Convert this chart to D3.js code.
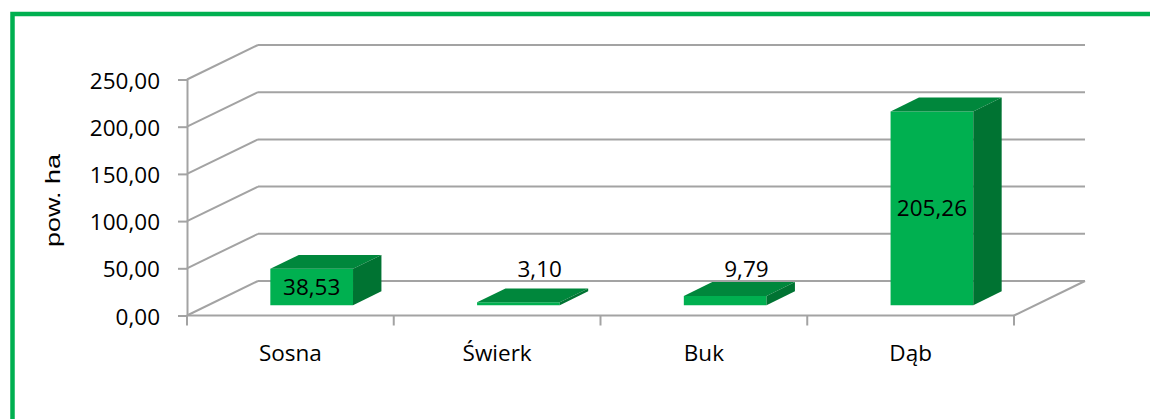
<!DOCTYPE html>
<html><head><meta charset="utf-8">
<script src="https://cdn.jsdelivr.net/npm/d3@7"></script>
<style>
html,body{margin:0;padding:0;background:#fff;}
svg{display:block;}
</style></head>
<body>
<svg id="chart" width="1150" height="419"></svg>
<script>
const categories = ["Sosna", "Świerk", "Buk", "Dąb"];
const values = [38.53, 3.10, 9.79, 205.26];
const yTicks = [0, 50, 100, 150, 200, 250];
const yTitle = "pow. ha";

const svg = d3.select("#chart");
const loc = d3.formatLocale({decimal: ",", thousands: " ", grouping: [3], currency: ["", ""]});
const fmt = loc.format(".2f");

// geometry
const X0 = 187, X1 = 1014;
const y = d3.scaleLinear().domain([0, 250]).range([315.5, 79.5]);
const x = d3.scaleBand().domain(categories).range([X0, X1]).paddingInner(0.6).paddingOuter(0.3);
const DX = 71, DY = -34.5;          // full depth offset
const fFront = 0.3, fBack = 0.7;     // bar depth placement
const grid = "#a3a3a3";
const font = "'Open Sans', sans-serif";

// green frame
svg.append("rect").attr("x", 12.5).attr("y", 14).attr("width", 1300).attr("height", 600)
  .attr("fill", "none").attr("stroke", "#00b050").attr("stroke-width", 4.5);

const g = svg.append("g");

// back wall gridlines + left wall diagonals
yTicks.forEach(t => {
  g.append("line").attr("x1", X0 + DX).attr("x2", X1 + DX)
    .attr("y1", y(t) + DY).attr("y2", y(t) + DY)
    .attr("stroke", grid).attr("stroke-width", 2);
  g.append("line").attr("x1", X0).attr("x2", X0 + DX)
    .attr("y1", y(t)).attr("y2", y(t) + DY)
    .attr("stroke", grid).attr("stroke-width", 2);
});
// floor front edge and right edge
g.append("line").attr("x1", X0).attr("x2", X1).attr("y1", y(0)).attr("y2", y(0))
  .attr("stroke", grid).attr("stroke-width", 2);
g.append("line").attr("x1", X1).attr("x2", X1 + DX).attr("y1", y(0)).attr("y2", y(0) + DY)
  .attr("stroke", grid).attr("stroke-width", 2);

// category ticks
const step = x.step();
d3.range(categories.length + 1).forEach(i => {
  g.append("line").attr("x1", X0 + i * step).attr("x2", X0 + i * step)
    .attr("y1", y(0)).attr("y2", y(0) + 10)
    .attr("stroke", grid).attr("stroke-width", 2);
});

// y axis
const yAxis = d3.axisLeft(y).tickValues(yTicks).tickFormat(fmt).tickSize(9).tickSizeOuter(0).tickPadding(18);
const ya = g.append("g").attr("transform", `translate(${X0},0)`).call(yAxis);
ya.select(".domain").attr("stroke", grid).attr("stroke-width", 2);
ya.selectAll(".tick line").attr("stroke", grid).attr("stroke-width", 2);
ya.selectAll(".tick text").attr("font-family", font).attr("font-size", 22.5).attr("fill", "#000")
  .attr("dy", null).attr("y", 8.5);

// y title
svg.append("text").attr("transform", "translate(59.5,200.5) rotate(-90)")
  .attr("text-anchor", "middle").attr("font-family", "'Liberation Sans', Arial, sans-serif")
  .attr("font-size", 21).attr("textLength", 93).attr("lengthAdjust", "spacingAndGlyphs")
  .text(yTitle);

// category labels
categories.forEach(c => {
  svg.append("text").attr("x", x(c) + x.bandwidth() / 2).attr("y", 361)
    .attr("text-anchor", "middle").attr("font-family", font).attr("font-size", 22.5)
    .attr("fill", "#000").text(c);
});

// bars
const fdx = DX * fFront, fdy = DY * fFront;
const bdx = DX * (fBack - fFront), bdy = DY * (fBack - fFront);
const data = categories.map((c, i) => ({c, v: values[i]}));
const bars = g.append("g").selectAll("g").data(data).join("g");
bars.each(function(d) {
  const s = d3.select(this);
  const xl = x(d.c) + fdx, xr = xl + x.bandwidth();
  const yb = y(0) + fdy, yt = y(d.v) + fdy;
  s.append("polygon").attr("points", [[xl, yt], [xr, yt], [xr, yb], [xl, yb]].join(" "))
    .attr("fill", "#00b050");
  s.append("polygon").attr("points", [[xl, yt], [xr, yt], [xr + bdx, yt + bdy], [xl + bdx, yt + bdy]].join(" "))
    .attr("fill", "#00873c");
  s.append("polygon").attr("points", [[xr, yt], [xr + bdx, yt + bdy], [xr + bdx, yb + bdy], [xr, yb]].join(" "))
    .attr("fill", "#007332");
  const inside = (yb - yt) > 30;
  const lx = inside ? (xl + xr) / 2 : (xl + xr) / 2 + fdx;
  const ly = inside ? (yt + yb) / 2 + 8 : y(0) - 47 + 8;
  s.append("text").attr("x", lx).attr("y", ly).attr("text-anchor", "middle")
    .attr("font-family", font).attr("font-size", 22.5).attr("fill", "#000")
    .text(fmt(d.v));
});
</script>
</body></html>
